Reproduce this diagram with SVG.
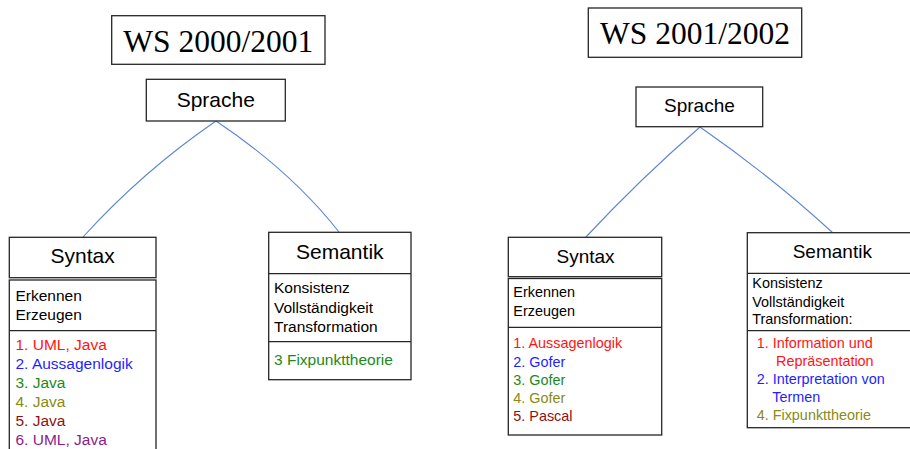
<svg xmlns="http://www.w3.org/2000/svg" width="910" height="449" viewBox="0 0 910 449">
  <style>
    .box { fill: #ffffff; stroke: #262626; stroke-width: 1.3; }
    .sep { stroke: #262626; stroke-width: 1.3; fill: none; }
    .title { font-family: "Liberation Serif", "Times New Roman", serif; fill: #000; }
    .sans { font-family: "Liberation Sans", Arial, sans-serif; fill: #000; }
    .hdrL { font-size: 21px; }
    .txtL { font-size: 15.5px; }
    .hdrR { font-size: 19px; }
    .txtR { font-size: 14.4px; }
    .conn { fill: none; stroke: #5b86d1; stroke-width: 1.1; }
    .c1 { fill: #ff1414; }
    .c2 { fill: #1f1fff; }
    .c3 { fill: #1b8a1b; }
    .c4 { fill: #8a8a14; }
    .c5 { fill: #8e1212; }
    .c6 { fill: #8c1c8c; }
  </style>
  <rect width="910" height="449" fill="#ffffff"/>

  <!-- connectors -->
  <g id="connectors">
    <path class="conn" d="M216,121 Q143,171 83,237"/>
    <path class="conn" d="M216,121 Q291,171 339,232"/>
    <path class="conn" d="M700,127 Q640,179 585,238"/>
    <path class="conn" d="M700,127 Q772,177 833,233"/>
  </g>

  <!-- WS 2000/2001 -->
  <g id="title-2000">
    <rect class="box" x="111.7" y="15.7" width="213.3" height="48.6"/>
    <text class="title" x="218.3" y="52.3" font-size="31.5" text-anchor="middle">WS 2000/2001</text>
  </g>

  <g id="sprache-2000">
    <rect class="box" x="146.3" y="79.3" width="139" height="41.7"/>
    <text class="sans" x="215.8" y="106.7" font-size="21" text-anchor="middle">Sprache</text>
  </g>

  <g id="syntax-2000">
    <rect class="box" x="9.3" y="237.3" width="146.7" height="40.4"/>
    <text class="sans hdrL" x="82.6" y="263.3" text-anchor="middle">Syntax</text>
    <rect class="box" x="9.3" y="280" width="146.7" height="190"/>
    <line class="sep" x1="9.3" y1="330.7" x2="156" y2="330.7"/>
    <text class="sans txtL" x="15.5" y="300.7">Erkennen</text>
    <text class="sans txtL" x="15.5" y="319.5">Erzeugen</text>
    <text class="sans txtL c1" x="15.5" y="350">1. UML, Java</text>
    <text class="sans txtL c2" x="15.5" y="369">2. Aussagenlogik</text>
    <text class="sans txtL c3" x="15.5" y="388">3. Java</text>
    <text class="sans txtL c4" x="15.5" y="407">4. Java</text>
    <text class="sans txtL c5" x="15.5" y="426">5. Java</text>
    <text class="sans txtL c6" x="15.5" y="445">6. UML, Java</text>
  </g>

  <g id="semantik-2000">
    <rect class="box" x="268.7" y="232.3" width="142.3" height="147.4"/>
    <line class="sep" x1="268.7" y1="273.7" x2="411" y2="273.7"/>
    <line class="sep" x1="268.7" y1="341.7" x2="411" y2="341.7"/>
    <text class="sans hdrL" x="339.8" y="259.3" text-anchor="middle">Semantik</text>
    <text class="sans txtL" x="274" y="293.3">Konsistenz</text>
    <text class="sans txtL" x="274" y="312.5">Vollständigkeit</text>
    <text class="sans txtL" x="274" y="331.7">Transformation</text>
    <text class="sans txtL c3" x="274" y="365">3 Fixpunkttheorie</text>
  </g>

  <!-- WS 2001/2002 -->
  <g id="title-2001">
    <rect class="box" x="588.3" y="8" width="213.4" height="49.3"/>
    <text class="title" x="695" y="44.3" font-size="31.5" text-anchor="middle">WS 2001/2002</text>
  </g>

  <g id="sprache-2001">
    <rect class="box" x="636" y="87" width="126.7" height="39.7"/>
    <text class="sans" x="699.4" y="112.3" font-size="19" text-anchor="middle">Sprache</text>
  </g>

  <g id="syntax-2001">
    <rect class="box" x="508.3" y="237.3" width="153.4" height="39.4"/>
    <text class="sans hdrR" x="585.5" y="262.7" text-anchor="middle">Syntax</text>
    <rect class="box" x="508.3" y="278.5" width="153.4" height="156.5"/>
    <line class="sep" x1="508.3" y1="327.3" x2="661.7" y2="327.3"/>
    <text class="sans txtR" x="513.3" y="297.3">Erkennen</text>
    <text class="sans txtR" x="513.3" y="315.7">Erzeugen</text>
    <text class="sans txtR c1" x="513.3" y="348.3">1. Aussagenlogik</text>
    <text class="sans txtR c2" x="513.3" y="366.7">2. Gofer</text>
    <text class="sans txtR c3" x="513.3" y="385">3. Gofer</text>
    <text class="sans txtR c4" x="513.3" y="403.3">4. Gofer</text>
    <text class="sans txtR c5" x="513.3" y="421.3">5. Pascal</text>
  </g>

  <g id="semantik-2001">
    <rect class="box" x="747.3" y="232.7" width="170" height="195"/>
    <line class="sep" x1="747.3" y1="273.3" x2="917" y2="273.3"/>
    <line class="sep" x1="747.3" y1="330.7" x2="917" y2="330.7"/>
    <text class="sans hdrR" x="832.3" y="258.3" text-anchor="middle">Semantik</text>
    <text class="sans txtR" x="752.3" y="288.3">Konsistenz</text>
    <text class="sans txtR" x="752.3" y="306.7">Vollständigkeit</text>
    <text class="sans txtR" x="752.3" y="324.3">Transformation:</text>
    <text class="sans txtR c1" x="756.7" y="348.3">1. Information und</text>
    <text class="sans txtR c1" x="776" y="365.7">Repräsentation</text>
    <text class="sans txtR c2" x="756.7" y="384">2. Interpretation von</text>
    <text class="sans txtR c2" x="772.3" y="402.3">Termen</text>
    <text class="sans txtR c4" x="756.7" y="420">4. Fixpunkttheorie</text>
  </g>
</svg>
